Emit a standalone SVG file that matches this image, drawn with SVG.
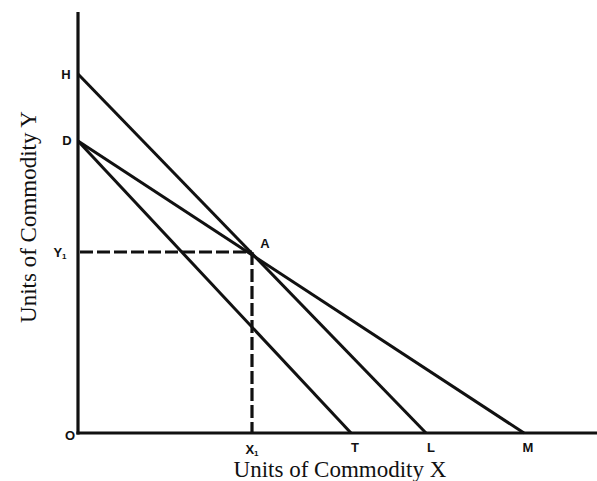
<svg xmlns="http://www.w3.org/2000/svg" width="597" height="481" viewBox="0 0 597 481">
<style>
.ax{stroke:#111;stroke-width:3.2;fill:none;stroke-linecap:butt}
.ln{stroke:#111;stroke-width:3;fill:none}
.dash{stroke:#111;stroke-width:3.2;fill:none;stroke-dasharray:13 4}
.lb{font-family:"Liberation Sans",Arial,sans-serif;font-weight:bold;font-size:13px;fill:#111}
.sub{font-size:8px}
.title{font-family:"Liberation Serif","Times New Roman",serif;font-size:23px;fill:#111}
</style>
<rect width="597" height="481" fill="#fff"/>
<g id="connectors">
<line class="ln" x1="78" y1="74" x2="426" y2="433"/>
<line class="ln" x1="78" y1="141" x2="524" y2="433"/>
<line class="ln" x1="78" y1="141" x2="351" y2="433"/>
<line class="dash" x1="80" y1="252" x2="252" y2="252"/>
<line class="dash" x1="252" y1="252" x2="252" y2="433"/>
</g>
<g id="axes">
<line class="ax" x1="78" y1="12" x2="78" y2="434.6"/>
<line class="ax" x1="76.4" y1="433" x2="597" y2="433"/>
</g>
<g id="node-H"><text class="lb" x="66" y="79" text-anchor="middle">H</text></g>
<g id="node-D"><text class="lb" x="67" y="145" text-anchor="middle">D</text></g>
<g id="node-Y1"><text class="lb" x="60" y="257" text-anchor="middle">Y<tspan class="sub" dy="2">1</tspan></text></g>
<g id="node-A"><text class="lb" x="265" y="248" text-anchor="middle">A</text></g>
<g id="node-O"><text class="lb" x="70" y="440" text-anchor="middle">O</text></g>
<g id="node-X1"><text class="lb" x="252" y="454" text-anchor="middle">X<tspan class="sub" dy="2">1</tspan></text></g>
<g id="node-T"><text class="lb" x="355" y="452" text-anchor="middle">T</text></g>
<g id="node-L"><text class="lb" x="431" y="452" text-anchor="middle">L</text></g>
<g id="node-M"><text class="lb" x="528" y="452" text-anchor="middle">M</text></g>
<g id="label-x"><text class="title" x="340" y="477" text-anchor="middle">Units of Commodity X</text></g>
<g id="label-y"><text class="title" transform="translate(36,217) rotate(-90)" text-anchor="middle">Units of Commodity Y</text></g>
</svg>
